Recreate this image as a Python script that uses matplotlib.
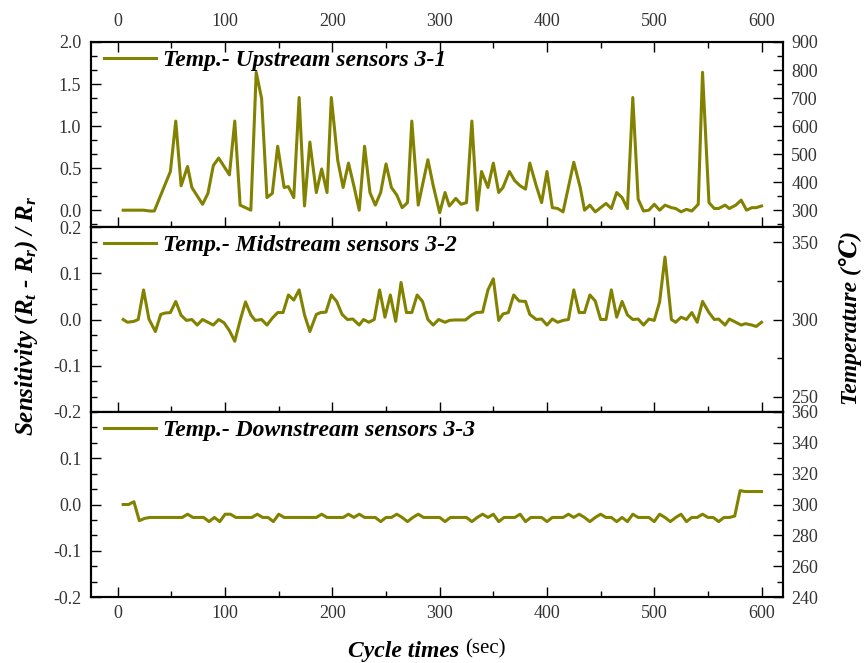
import matplotlib
matplotlib.use("Agg")
import matplotlib.pyplot as plt
from matplotlib.ticker import MultipleLocator, FormatStrFormatter, FixedLocator

plt.rcParams['font.family'] = ['Liberation Serif', 'DejaVu Serif', 'DejaVu Sans']
plt.rcParams['axes.unicode_minus'] = False
plt.rcParams['mathtext.fontset'] = 'custom'
plt.rcParams['mathtext.rm'] = 'Liberation Serif:bold:italic'
plt.rcParams['mathtext.it'] = 'Liberation Serif:bold:italic'
plt.rcParams['mathtext.bf'] = 'Liberation Serif:bold:italic'

# ---------------- data ----------------
labels = ["Temp.- Upstream sensors 3-1",
          "Temp.- Midstream sensors 3-2",
          "Temp.- Downstream sensors 3-3"]

x_up = [5, 24, 30, 34, 41, 49, 54, 59, 65, 69, 79, 84, 89, 94, 104, 109, 114, 124, 129, 134,
        139, 144, 149, 155, 159, 164, 169, 174, 179, 185, 190, 195, 199, 205, 210, 215, 220, 225,
        230, 235, 240, 245, 250, 255, 260, 265, 270, 274, 280, 289, 294, 300, 305, 309, 315, 320,
        325, 330, 335, 339, 345, 350, 355, 359, 365, 370, 375, 380, 384, 390, 395, 400, 405, 410,
        415, 425, 431, 435, 440, 445, 450, 455, 460, 465, 470, 475, 480, 485, 490, 495, 500, 505,
        510, 516, 520, 525, 530, 535, 541, 545, 551, 556, 560, 566, 570, 576, 581, 586, 591, 595, 600]
s_up = [0.0, 0.0, -0.01, -0.01, 0.21, 0.46, 1.06, 0.29, 0.52, 0.27, 0.07, 0.2, 0.53, 0.62, 0.42,
        1.06, 0.06, 0.0, 1.64, 1.33, 0.15, 0.2, 0.76, 0.27, 0.28, 0.15, 1.34, 0.05, 0.81, 0.21,
        0.49, 0.21, 1.34, 0.59, 0.27, 0.56, 0.29, 0.0, 0.76, 0.21, 0.06, 0.21, 0.55, 0.27, 0.18,
        0.03, 0.09, 1.06, 0.06, 0.6, 0.29, -0.03, 0.21, 0.05, 0.14, 0.07, 0.09, 1.06, 0.0, 0.46,
        0.27, 0.56, 0.21, 0.27, 0.46, 0.35, 0.29, 0.25, 0.56, 0.29, 0.09, 0.46, 0.03, 0.02, -0.02,
        0.57, 0.27, 0.0, 0.06, -0.02, 0.03, 0.08, 0.02, 0.21, 0.15, 0.02, 1.34, 0.13, -0.01, 0.0,
        0.07, 0.0, 0.06, 0.03, 0.02, -0.02, 0.01, -0.01, 0.07, 1.64, 0.09, 0.02, 0.02, 0.06, 0.02,
        0.06, 0.12, 0.0, 0.03, 0.03, 0.05]

x_mid = [5, 9, 15, 19, 24, 29, 35, 40, 44, 49, 54, 59, 64, 69, 74, 79, 84, 89, 94, 99, 104, 109,
         114, 119, 124, 128, 134, 139, 144, 149, 154, 159, 164, 169, 174, 179, 185, 189, 194, 199,
         204, 209, 214, 219, 225, 229, 234, 239, 244, 249, 254, 259, 264, 269, 274, 279, 284, 289,
         294, 299, 305, 309, 314, 319, 324, 330, 334, 340, 345, 350, 355, 359, 364, 369, 374, 380,
         384, 390, 395, 400, 405, 410, 415, 420, 425, 430, 435, 440, 445, 450, 455, 460, 465, 470,
         475, 480, 485, 490, 495, 500, 505, 510, 516, 520, 525, 530, 535, 540, 545, 551, 556, 560,
         566, 570, 576, 581, 585, 591, 595, 600]
s_mid = [0.0, -0.006, -0.004, 0.0, 0.064, 0.001, -0.026, 0.011, 0.014, 0.015, 0.039, 0.009,
         -0.002, 0.0, -0.012, 0.0, -0.006, -0.012, 0.0, -0.007, -0.024, -0.047, -0.002, 0.038,
         0.01, -0.002, 0.0, -0.012, 0.003, 0.015, 0.015, 0.053, 0.042, 0.064, 0.01, -0.026, 0.011,
         0.015, 0.016, 0.053, 0.039, 0.011, 0.0, 0.001, -0.012, 0.0, -0.006, 0.0, 0.064, 0.005,
         0.053, -0.004, 0.08, 0.015, 0.015, 0.053, 0.039, 0.0, -0.012, 0.0, -0.006, -0.002,
         -0.001, -0.001, -0.001, 0.01, 0.015, 0.016, 0.064, 0.088, -0.002, 0.012, 0.015, 0.053,
         0.040, 0.039, 0.011, 0.0, 0.001, -0.012, 0.001, -0.006, -0.002, 0.0, 0.064, 0.015, 0.015,
         0.053, 0.04, 0.0, 0.0, 0.064, 0.005, 0.039, 0.01, 0.0, 0.001, -0.012, 0.001, -0.002,
         0.038, 0.135, 0.0, -0.006, 0.005, 0.0, 0.015, -0.006, 0.039, 0.015, 0.0, 0.001, -0.012,
         0.001, -0.006, -0.012, -0.009, -0.012, -0.015, -0.006]

x_down = [5, 10, 15, 20, 25, 30, 35, 40, 45, 50, 55, 60, 65, 70, 75, 80, 85, 90, 95, 100, 105,
          110, 115, 120, 125, 130, 135, 140, 145, 150, 155, 160, 165, 170, 175, 180, 185, 190,
          195, 200, 205, 210, 215, 220, 225, 230, 235, 240, 245, 250, 255, 260, 265, 270, 275,
          280, 285, 290, 295, 300, 305, 310, 315, 320, 325, 330, 335, 340, 345, 350, 355, 360,
          365, 370, 375, 380, 385, 390, 395, 400, 405, 410, 415, 420, 425, 430, 435, 440, 445,
          450, 455, 460, 465, 470, 475, 480, 485, 490, 495, 500, 505, 510, 515, 520, 525, 530,
          535, 540, 545, 550, 555, 560, 565, 570, 575, 580, 585, 590, 595, 600]
s_down = [0.0, 0.0, 0.006, -0.035, -0.03,
          -0.028, -0.028, -0.028, -0.028, -0.028, -0.028, -0.028, -0.021, -0.028, -0.028,
          -0.028, -0.037, -0.028, -0.037, -0.021, -0.021, -0.028, -0.028, -0.028, -0.028,
          -0.021, -0.028, -0.028, -0.037, -0.021, -0.028, -0.028, -0.028, -0.028, -0.028,
          -0.028, -0.028, -0.021, -0.028, -0.028, -0.028, -0.028, -0.021, -0.028, -0.021,
          -0.028, -0.028, -0.028, -0.037, -0.028, -0.028, -0.021, -0.028, -0.037, -0.028,
          -0.021, -0.028, -0.028, -0.028, -0.028, -0.037, -0.028, -0.028, -0.028, -0.028,
          -0.037, -0.028, -0.021, -0.028, -0.021, -0.037, -0.028, -0.028, -0.028, -0.021,
          -0.037, -0.028, -0.028, -0.028, -0.037, -0.028, -0.028, -0.028, -0.021, -0.028,
          -0.021, -0.028, -0.037, -0.028, -0.021, -0.028, -0.028, -0.037, -0.028, -0.037,
          -0.021, -0.028, -0.028, -0.028, -0.037, -0.021, -0.028, -0.037, -0.028, -0.021,
          -0.037, -0.028, -0.028, -0.021, -0.028, -0.028, -0.037, -0.028, -0.028,
          -0.025, 0.03, 0.028, 0.028, 0.028, 0.028]

xs = [x_up, x_mid, x_down]
ss = [s_up, s_mid, s_down]

left_lims = [(-0.2, 2.0), (-0.2, 0.2), (-0.2, 0.2)]
left_major = [[0.0, 0.5, 1.0, 1.5, 2.0], [-0.2, -0.1, 0.0, 0.1, 0.2], [-0.2, -0.1, 0.0, 0.1]]
left_minor = [1 / 6, 0.1 / 3, 0.1 / 3]
right_lims = [(240, 900), (240, 360), (240, 360)]
right_major = [100, 50, 20]
right_minor = [50, 25, 10]

color = '#828200'
tcolor = '#333333'

# ---------------- figure ----------------
fig = plt.figure(figsize=(8.64, 6.63), dpi=100)
gs = fig.add_gridspec(3, 1, left=91 / 864, right=783 / 864, top=1 - 42 / 663,
                      bottom=1 - 597 / 663, hspace=0)

for i in range(3):
    ax = fig.add_subplot(gs[i])
    ax.plot(xs[i], ss[i], color=color, lw=2.2, label=labels[i])
    ax.set_xlim(-25, 620)
    ax.set_ylim(*left_lims[i])
    ax.xaxis.set_major_locator(MultipleLocator(100))
    ax.xaxis.set_minor_locator(MultipleLocator(50))
    ax.yaxis.set_major_locator(FixedLocator(left_major[i]))
    ax.yaxis.set_minor_locator(MultipleLocator(left_minor[i]))
    ax.yaxis.set_major_formatter(FormatStrFormatter('%.1f'))
    ax.tick_params(which='major', length=7, direction='in', width=1.0,
                   labelsize=13, labelcolor=tcolor)
    ax.tick_params(which='minor', length=4, direction='in', width=1.0)
    ax.tick_params(axis='y', which='major', pad=7)
    ax.tick_params(axis='x', which='major', pad=6)
    ax.tick_params(axis='x', which='both', top=(i == 0), labeltop=(i == 0),
                   bottom=True, labelbottom=(i == 2))
    if i == 0:
        ax.xaxis.set_tick_params(which='major', pad=9)
    ax.tick_params(axis='y', which='both', right=False)
    for sp in ax.spines.values():
        sp.set_linewidth(1.5)

    axr = ax.twinx()
    axr.set_ylim(*right_lims[i])
    axr.yaxis.set_major_locator(MultipleLocator(right_major[i]))
    axr.yaxis.set_minor_locator(MultipleLocator(right_minor[i]))
    axr.tick_params(which='major', length=7, direction='in', width=1.0,
                    labelsize=13, labelcolor=tcolor, pad=6)
    axr.tick_params(which='minor', length=4, direction='in', width=1.0)
    for sp in axr.spines.values():
        sp.set_linewidth(1.5)
    if i == 0:
        axr.set_yticks([300, 400, 500, 600, 700, 800, 900])

    ax.legend(loc='upper left', bbox_to_anchor=(0.008, 1.0), frameon=False,
              borderaxespad=0, borderpad=0.33, handlelength=2.2, handletextpad=0.3,
              prop=dict(family='Liberation Serif', weight='bold', style='italic', size=17))

fig.text(27 / 864, 1 - 316 / 663, r'Sensitivity $(R_t$ - $R_r)$ / $R_r$', rotation=90,
         ha='center', va='center', fontsize=18, fontweight='bold', fontstyle='italic')
fig.text(850 / 864, 1 - 318 / 663, 'Temperature (\u2103)', rotation=90,
         ha='center', va='center', fontsize=17, fontweight='bold', fontstyle='italic')
fig.text(459 / 864, 1 - 651 / 663, 'Cycle times', ha='right', va='center',
         fontsize=17, fontweight='bold', fontstyle='italic')
fig.text(465 / 864, 1 - 649 / 663, '(sec)', ha='left', va='center', fontsize=15)

fig.savefig('out.png', dpi=100)
